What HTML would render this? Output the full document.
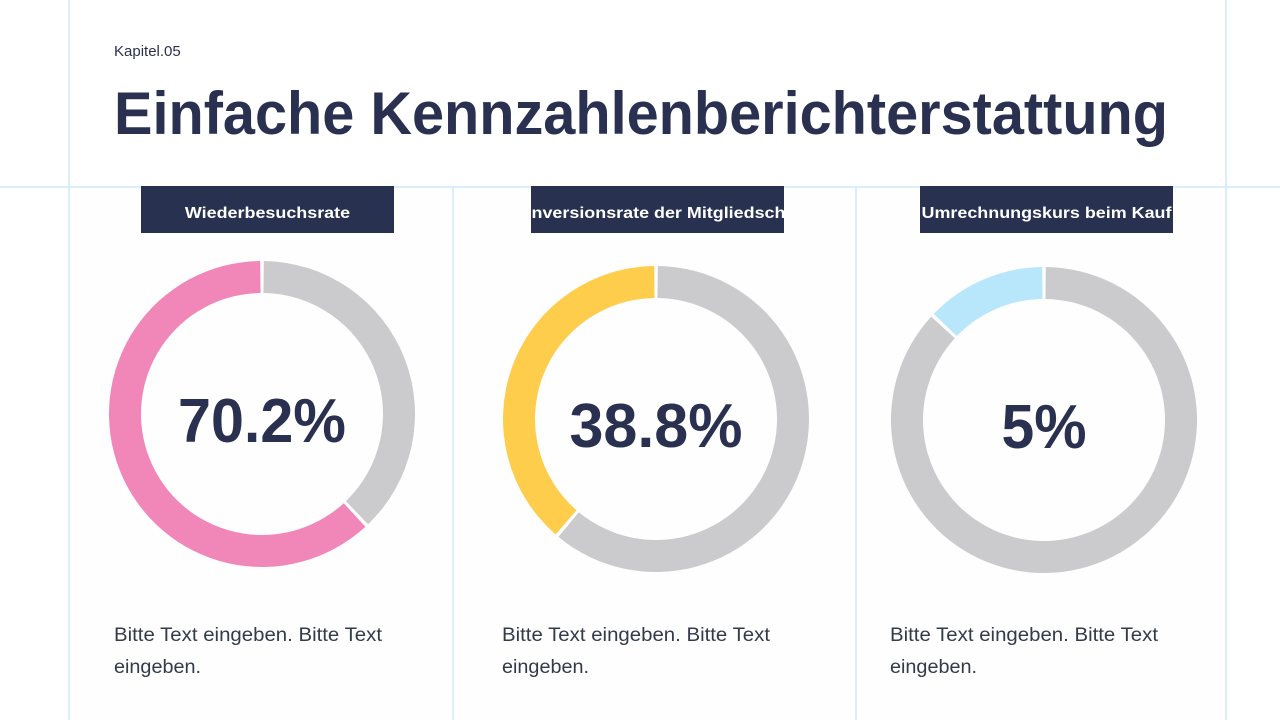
<!DOCTYPE html>
<html><head><meta charset="utf-8"><style>
html,body{margin:0;padding:0;background:#fff;}
svg{display:block;font-family:"Liberation Sans",sans-serif;}
</style></head><body>
<svg id="chart" width="1280" height="720" viewBox="0 0 1280 720">
<rect x="0" y="0" width="1280" height="720" fill="#ffffff"/>
<rect x="69" y="187" width="1157" height="533" fill="#fefefe"/>
<g stroke="#cfe8fa" stroke-width="1.5">
<line x1="69" y1="0" x2="69" y2="720"/>
<line x1="1226" y1="0" x2="1226" y2="720"/>
<line x1="0" y1="187" x2="1280" y2="187"/>
<line x1="453" y1="187" x2="453" y2="720"/>
<line x1="856" y1="187" x2="856" y2="720"/>
</g>
<text x="114" y="56" font-size="15" fill="#2a3150">Kapitel.05</text>
<text x="114" y="134" font-size="60" font-weight="bold" fill="#2a3150" textLength="1054" lengthAdjust="spacingAndGlyphs">Einfache Kennzahlenberichterstattung</text>
<g id="donuts"></g>
</svg>
<script>
const titles = ["Wiederbesuchsrate", "Konversionsrate der Mitgliedschaft", "Umrechnungskurs beim Kauf"];
const labels = ["70.2%", "38.8%", "5%"];
const arcValues = [62, 38.8, 13];
const colors = ["#f087b8", "#fecd4c", "#b8e6fb"];
const centersX = [262, 656, 1044];
const centersY = [414, 419, 420];
const labelWidths = [168, 173, 85];

const NS = "http://www.w3.org/2000/svg";
const g = document.getElementById("donuts");
function mk(tag, attrs, parent) {
  const e = document.createElementNS(NS, tag);
  for (const k in attrs) e.setAttribute(k, attrs[k]);
  (parent || g).appendChild(e);
  return e;
}
function angle(pct) { return pct / 100 * 2 * Math.PI; }
function arcPath(cx, cy, r0, r1, a0, a1) {
  const p = (r, a) => [cx + r * Math.sin(a), cy - r * Math.cos(a)];
  const large = (a1 - a0) > Math.PI ? 1 : 0;
  const [x0, y0] = p(r1, a0), [x1, y1] = p(r1, a1), [x2, y2] = p(r0, a1), [x3, y3] = p(r0, a0);
  return `M${x0},${y0} A${r1},${r1} 0 ${large} 1 ${x1},${y1} L${x2},${y2} A${r0},${r0} 0 ${large} 0 ${x3},${y3} Z`;
}
const R1 = 153, R0 = 121;
const boxX = [141, 531, 920];
for (let i = 0; i < titles.length; i++) {
  const cx = centersX[i], cy = centersY[i];
  const split = angle(100 - arcValues[i]);
  const gap = 0.012;
  const rest = mk("path", {d: arcPath(cx, cy, R0, R1, gap, split - gap), fill: "#cbcacc"});
  
  
  const val = mk("path", {d: arcPath(cx, cy, R0, R1, split + gap, 2 * Math.PI - gap), fill: colors[i]});
  
  
  const lab = mk("text", {x: cx, y: cy + 28, "text-anchor": "middle", "font-size": "62", "font-weight": "bold", fill: "#2a3150", textLength: labelWidths[i], lengthAdjust: "spacingAndGlyphs"});
  lab.textContent = labels[i];
  
  
  const clip = mk("clipPath", {id: "clip" + i});
  mk("rect", {x: boxX[i], y: 186, width: 253, height: 47}, clip);
  const box = mk("rect", {x: boxX[i], y: 186, width: 253, height: 47, fill: "#283150"});
  
  
  const ht = mk("text", {x: boxX[i] + 126.5, y: 218, "text-anchor": "middle", "font-size": "16", "font-weight": "bold", fill: "#ffffff", "clip-path": "url(#clip" + i + ")"});
  ht.textContent = titles[i];
  
  
  const w = ht.getComputedTextLength() * 1.12;
  ht.setAttribute('textLength', w);
  ht.setAttribute('lengthAdjust', 'spacingAndGlyphs');
  const bx = [114, 502, 890][i];
  const t1 = mk("text", {x: bx, y: 641, "font-size": "19", fill: "#333a4a", textLength: 268, lengthAdjust: "spacingAndGlyphs"});
  t1.textContent = "Bitte Text eingeben. Bitte Text";
  
  
  const t2 = mk("text", {x: bx, y: 673, "font-size": "19", fill: "#333a4a", textLength: 87, lengthAdjust: "spacingAndGlyphs"});
  t2.textContent = "eingeben.";
  
  
}
</script>
</body></html>
